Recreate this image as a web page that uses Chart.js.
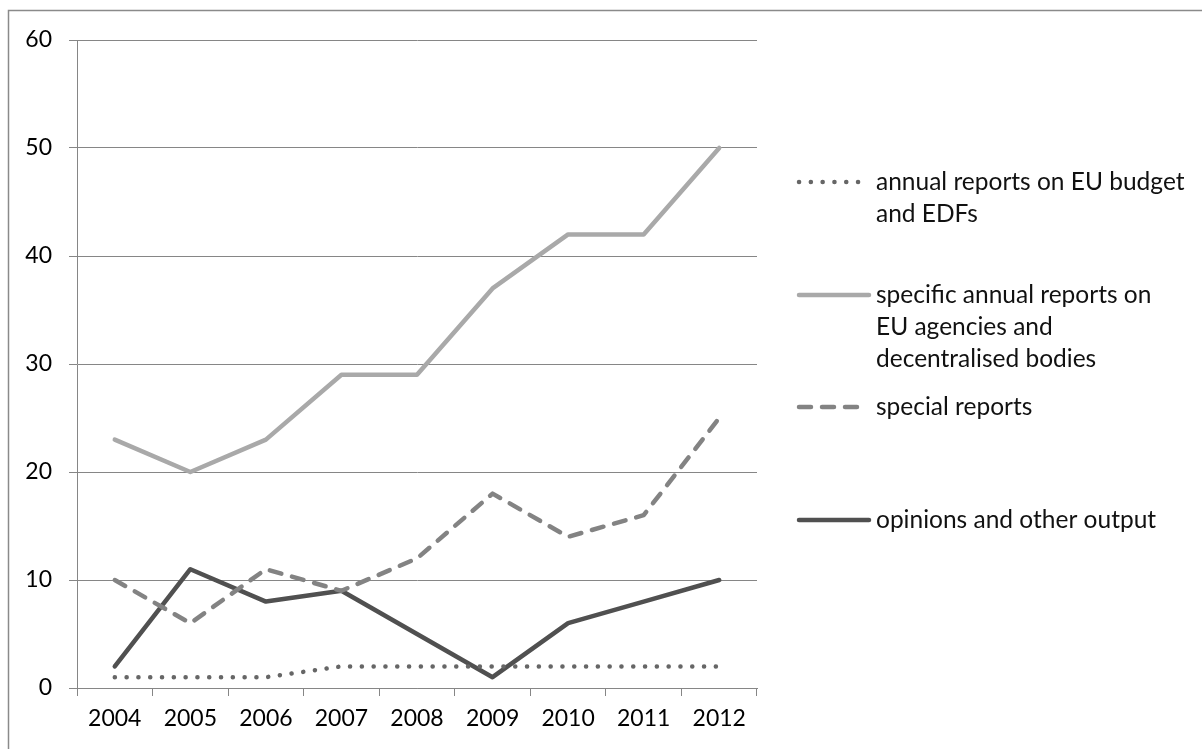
<!DOCTYPE html>
<html>
<head>
<meta charset="utf-8">
<script src="https://cdn.jsdelivr.net/npm/chart.js@4/dist/chart.umd.min.js"></script>
<style>
  html, body { margin: 0; padding: 0; background: #ffffff; }
  #wrap { position: relative; width: 1202px; height: 749px; }
</style>
</head>
<body>
<div id="wrap"><canvas id="c" width="1202" height="749"></canvas></div>
<script>
// Output of the Court per year
const years = ['2004', '2005', '2006', '2007', '2008', '2009', '2010', '2011', '2012'];
const annualReports = [1, 1, 1, 2, 2, 2, 2, 2, 2];
const specificAnnualReports = [23, 20, 23, 29, 29, 37, 42, 42, 50];
const specialReports = [10, 6, 11, 9, 12, 18, 14, 16, 25];
const opinionsOther = [2, 11, 8, 9, 5, 1, 6, 8, 10];

// Legend captions, one entry per series, wrapped into lines
const legendLines = [
  ['annual reports on EU budget', 'and EDFs'],
  ['specific annual reports on', 'EU agencies and', 'decentralised bodies'],
  ['special reports'],
  ['opinions and other output']
];

const FONT = 'Lato, "Open Sans", sans-serif';
const TICK_SIZE = 23;
const LEGEND_SIZE = 24.5;
const AXIS_GREY = '#868686';

// Frame along the top and left edges of the canvas
const framePlugin = {
  id: 'frame',
  beforeDraw(chart) {
    const ctx = chart.ctx;
    ctx.save();
    ctx.strokeStyle = '#8a8a8a';
    ctx.lineWidth = 1.5;
    ctx.beginPath();
    ctx.moveTo(chart.width, 10.5);
    ctx.lineTo(8.5, 10.5);
    ctx.lineTo(8.5, chart.height);
    ctx.stroke();
    ctx.restore();
  }
};

// Legend on the right with wrapped captions
const sideLegend = {
  id: 'sideLegend',
  afterDraw(chart) {
    const ctx = chart.ctx;
    const area = chart.chartArea;
    const sx0 = area.right + 42, sx1 = area.right + 112, tx = area.right + 119;
    const firstY = [182, 295, 407, 520];
    const lineGap = 32;
    ctx.save();
    chart.data.datasets.forEach((ds, i) => {
      const y = firstY[i];
      ctx.strokeStyle = ds.borderColor;
      ctx.lineWidth = ds.borderWidth;
      ctx.lineCap = 'round';
      ctx.setLineDash(ds.borderDash || []);
      ctx.beginPath();
      const end = ds.borderDash && ds.borderDash.length ? sx1 - 8 : sx1;
      ctx.moveTo(sx0, y);
      ctx.lineTo(end, y);
      ctx.stroke();
      ctx.setLineDash([]);
      ctx.fillStyle = '#111111';
      ctx.font = LEGEND_SIZE + 'px ' + FONT;
      ctx.textAlign = 'left';
      ctx.textBaseline = 'middle';
      legendLines[i].forEach((t, k) => ctx.fillText(t, tx, y + k * lineGap));
    });
    ctx.restore();
  }
};

const lineCommon = {
  fill: false,
  tension: 0,
  pointRadius: 0,
  pointHoverRadius: 0,
  borderJoinStyle: 'round',
  borderCapStyle: 'round'
};

new Chart(document.getElementById('c'), {
  type: 'line',
  data: {
    labels: years,
    datasets: [
      Object.assign({}, lineCommon, {
        label: legendLines[0].join(' '),
        data: annualReports,
        borderColor: '#666666',
        borderWidth: 4.5,
        borderDash: [0.1, 11.7]
      }),
      Object.assign({}, lineCommon, {
        label: legendLines[1].join(' '),
        data: specificAnnualReports,
        borderColor: '#a9a9a9',
        borderWidth: 4.5
      }),
      Object.assign({}, lineCommon, {
        label: legendLines[2].join(' '),
        data: specialReports,
        borderColor: '#838383',
        borderWidth: 4.5,
        borderDash: [12, 11]
      }),
      Object.assign({}, lineCommon, {
        label: legendLines[3].join(' '),
        data: opinionsOther,
        borderColor: '#505050',
        borderWidth: 4.5
      })
    ]
  },
  options: {
    responsive: false,
    animation: false,
    events: [],
    layout: { padding: { left: 0, top: 40, right: 445, bottom: 0 } },
    plugins: {
      legend: { display: false },
      tooltip: { enabled: false },
      title: { display: false }
    },
    scales: {
      x: {
        type: 'category',
        offset: true,
        grid: {
          offset: true,
          drawOnChartArea: false,
          drawTicks: true,
          tickLength: 8,
          color: AXIS_GREY,
          lineWidth: 1
        },
        border: { display: true, color: AXIS_GREY, width: 1 },
        ticks: {
          color: '#000000',
          font: { family: FONT, size: TICK_SIZE },
          padding: 9,
          maxRotation: 0,
          autoSkip: false
        },
        afterFit(scale) { scale.height = 61; }
      },
      y: {
        min: 0,
        max: 60,
        grid: {
          drawOnChartArea: true,
          drawTicks: true,
          tickLength: 8,
          color: AXIS_GREY,
          lineWidth: 1
        },
        border: { display: true, color: AXIS_GREY, width: 1 },
        ticks: {
          stepSize: 10,
          color: '#000000',
          font: { family: FONT, size: TICK_SIZE },
          padding: 17
        },
        afterFit(scale) { scale.width = 77; }
      }
    }
  },
  plugins: [framePlugin, sideLegend]
});
</script>
</body>
</html>
